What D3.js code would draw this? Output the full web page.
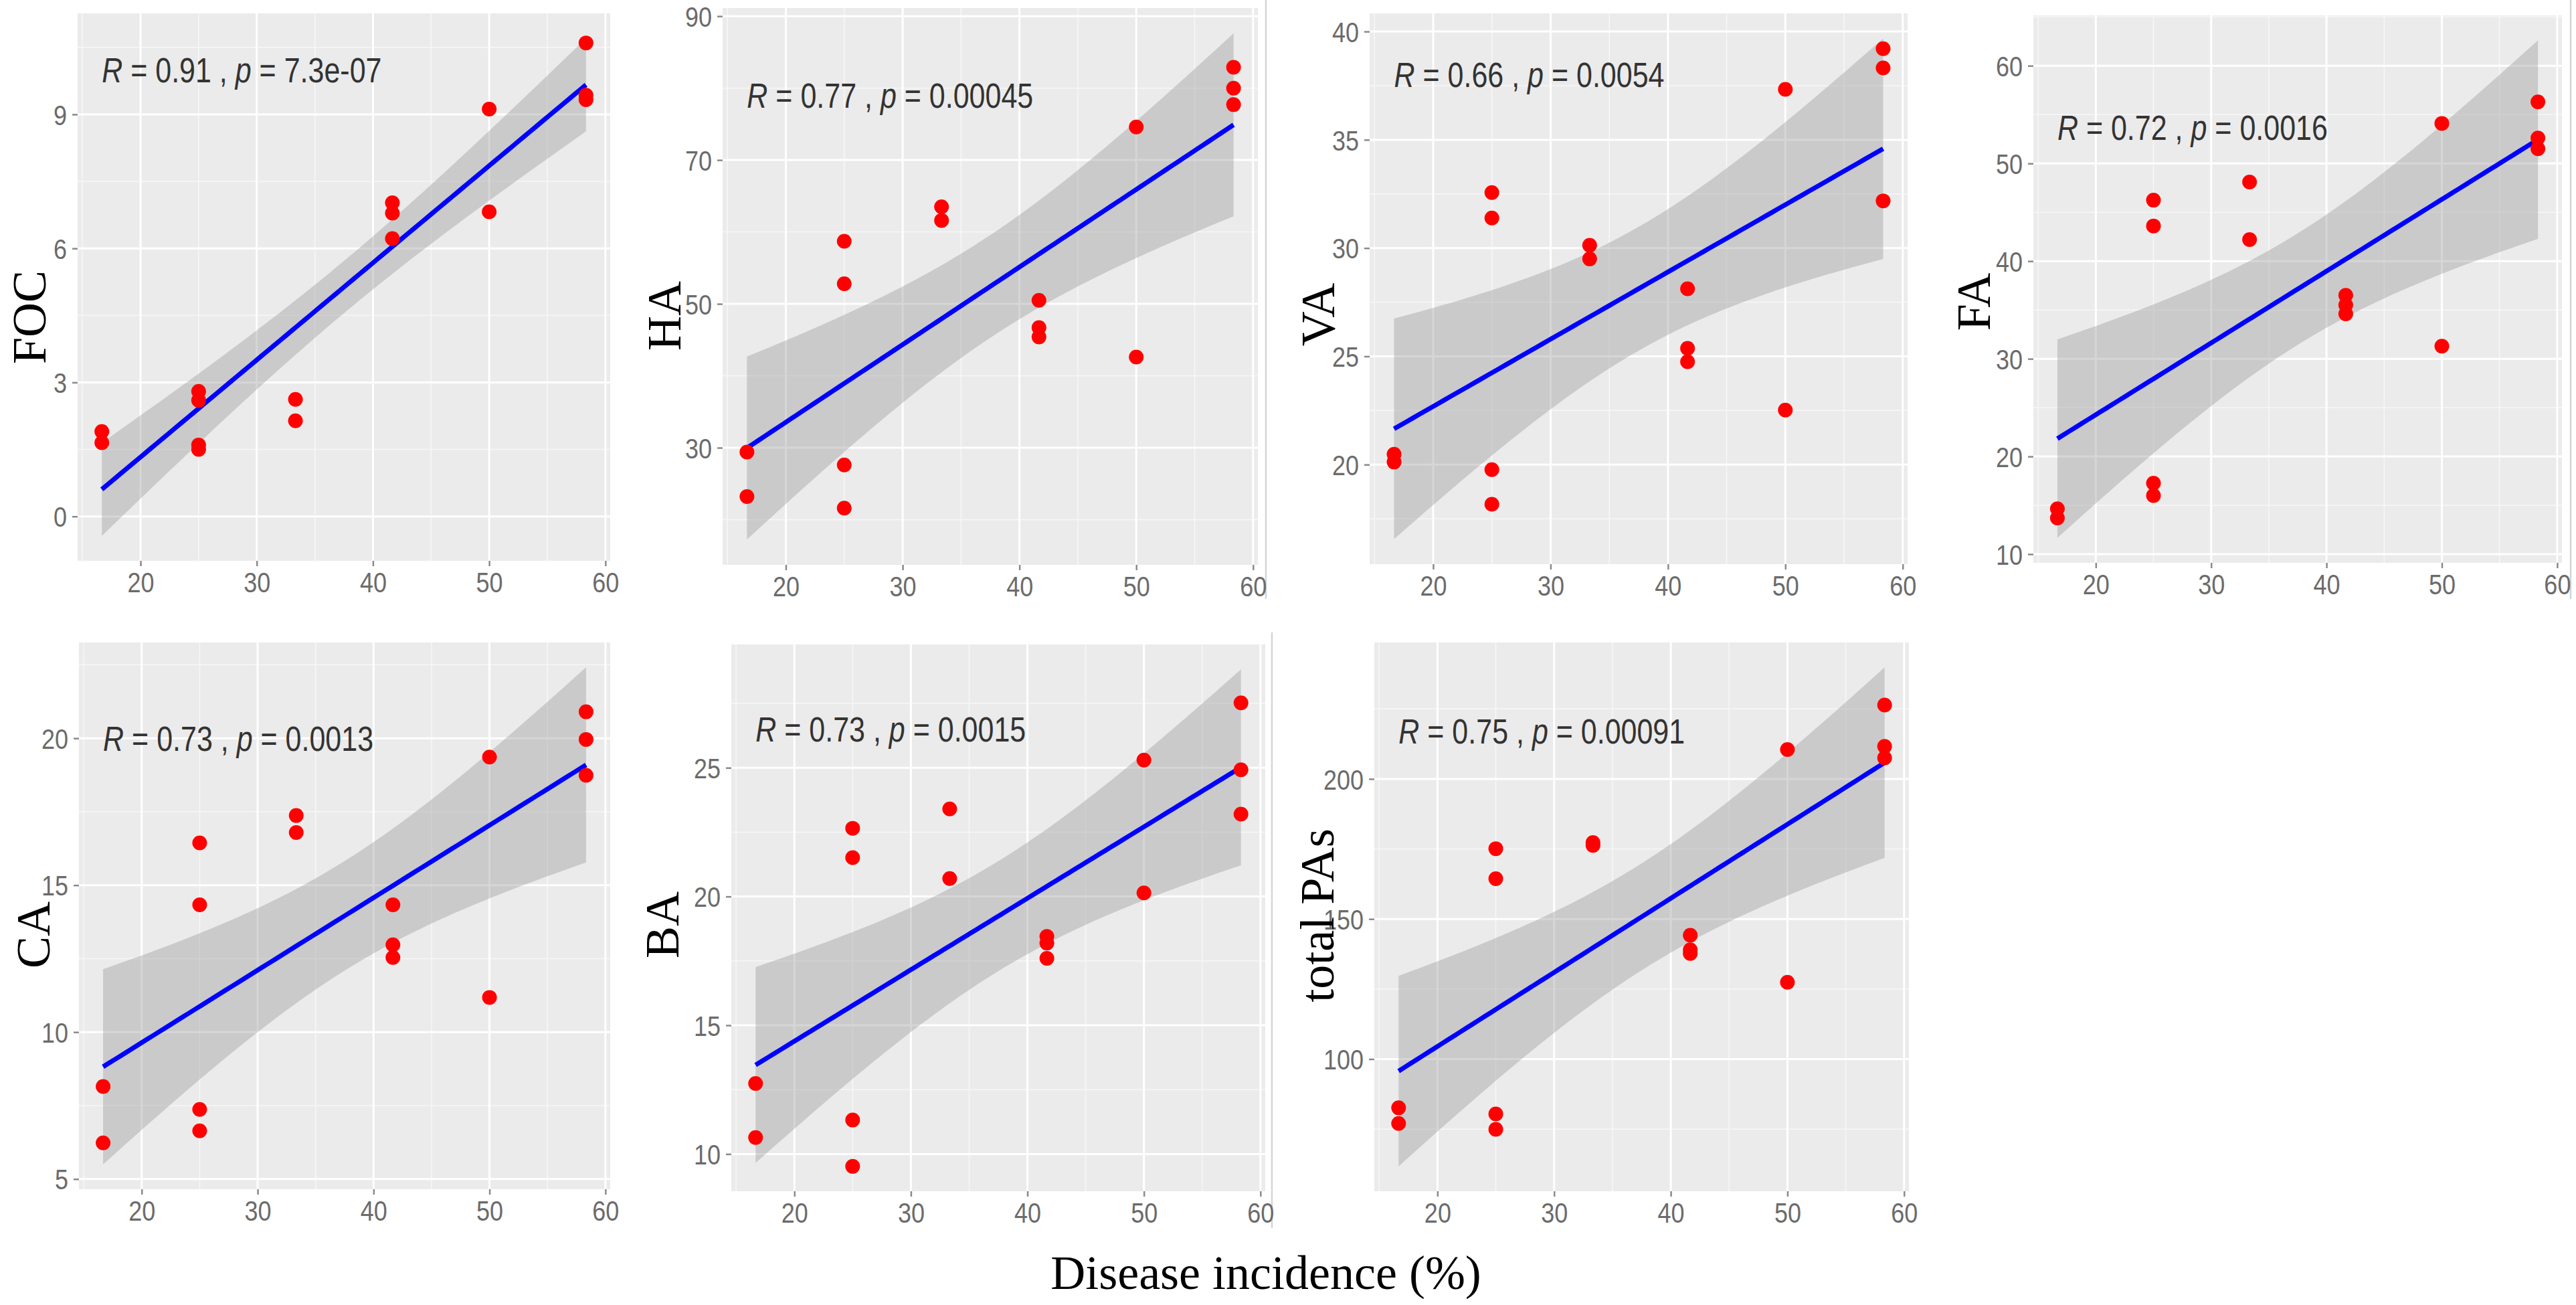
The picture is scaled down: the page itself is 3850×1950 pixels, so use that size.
<!DOCTYPE html>
<html>
<head>
<meta charset="utf-8">
<script src="https://d3js.org/d3.v7.min.js"></script>
<style>
body{margin:0;background:#fff;}
svg{display:block;}
</style>
</head>
<body>
<div class="chart"></div>
<script>
const W = 3850, H = 1950;

// disease incidence (%) of the 16 samples, same for every panel
const incidence = [16.67, 16.67, 25, 25, 25, 25, 33.33, 33.33, 41.67, 41.67, 41.67, 50, 50, 58.33, 58.33, 58.33];

const focValues = [1.9, 1.65, 2.8, 2.6, 1.6, 1.5, 2.62, 2.14, 7.02, 6.79, 6.22, 9.12, 6.82, 10.6, 9.43, 9.33];
const haValues  = [29.4, 23.2, 58.7, 52.8, 27.6, 21.6, 63.5, 61.6, 50.5, 46.7, 45.4, 74.6, 42.6, 82.9, 80.0, 77.7];
const vaValues  = [20.48, 20.12, 32.56, 31.39, 19.77, 18.17, 30.13, 29.5, 28.12, 25.37, 24.75, 37.33, 22.52, 39.21, 38.32, 32.18];
const faValues  = [14.65, 13.7, 46.24, 43.6, 17.27, 16.0, 48.1, 42.2, 36.5, 35.5, 34.6, 54.1, 31.3, 56.3, 52.6, 51.5];
const caValues  = [8.15, 6.23, 16.44, 14.33, 7.37, 6.64, 17.37, 16.79, 14.33, 12.97, 12.54, 19.36, 11.18, 20.9, 19.96, 18.74];
const baValues  = [12.74, 10.64, 22.65, 21.51, 11.32, 9.52, 23.4, 20.7, 18.45, 18.19, 17.6, 25.3, 20.14, 27.52, 24.92, 23.2];
const pasValues = [82.6, 77.0, 175.1, 164.4, 80.4, 74.9, 177.3, 176.3, 144.2, 139.0, 137.7, 210.5, 127.4, 226.4, 211.6, 207.5];

const variableNames = ['FOC', 'HA', 'VA', 'FA', 'CA', 'BA', 'total PAs'];
const seriesValues = [focValues, haValues, vaValues, faValues, caValues, baValues, pasValues];
const rLabels = ['0.91', '0.77', '0.66', '0.72', '0.73', '0.73', '0.75'];
const pLabels = ['7.3e-07', '0.00045', '0.0054', '0.0016', '0.0013', '0.0015', '0.00091'];

const xTickValues = [20, 30, 40, 50, 60];
const yTickValues = [
  [0, 3, 6, 9],
  [30, 50, 70, 90],
  [20, 25, 30, 35, 40],
  [10, 20, 30, 40, 50, 60],
  [5, 10, 15, 20],
  [10, 15, 20, 25],
  [100, 150, 200]
];
const xTitle = 'Disease incidence (%)';

// layout of the 7 panels (pixel boxes of the grey plot area, title spots)
const layout = [
  {x0: 116,  x1: 912,  y0: 20,  y1: 838,  tx: 44,   ty: 474,  labelY: 10},
  {x0: 1080, x1: 1880, y0: 12,  y1: 844,  tx: 993,  ty: 472,  labelY: 79},
  {x0: 2047, x1: 2851, y0: 20,  y1: 843,  tx: 1970, ty: 470,  labelY: 38},
  {x0: 3039, x1: 3829, y0: 23,  y1: 841,  tx: 2950, ty: 451,  labelY: 53.7},
  {x0: 118,  x1: 912,  y0: 960, y1: 1777, tx: 50,   ty: 1397, labelY: 20},
  {x0: 1093, x1: 1891, y0: 963, y1: 1780, tx: 990,  ty: 1382, labelY: 26.5},
  {x0: 2054, x1: 2853, y0: 960, y1: 1780, tx: 1969, ty: 1368, labelY: 217}
];

const tCrit = 2.1448; // qt(0.975, df = 14), n = 16

const linearFit = (xs, ys) => {
  const n = xs.length;
  const mx = d3.mean(xs), my = d3.mean(ys);
  const sxx = d3.sum(xs, x => (x - mx) ** 2);
  const sxy = d3.sum(xs, (x, i) => (x - mx) * (ys[i] - my));
  const slope = sxy / sxx;
  const icpt = my - slope * mx;
  const sse = d3.sum(xs, (x, i) => (ys[i] - icpt - slope * x) ** 2);
  const s = Math.sqrt(sse / (n - 2));
  const [lo, hi] = d3.extent(xs);
  return d3.range(80).map(i => {
    const x = lo + i * (hi - lo) / 79;
    const fit = icpt + slope * x;
    const se = s * Math.sqrt(1 / n + (x - mx) ** 2 / sxx);
    return {x, fit, lo: fit - tCrit * se, hi: fit + tCrit * se};
  });
};

const expand = ([a, b]) => {
  const pad = (b - a) * 0.05;
  return [a - pad, b + pad];
};

const minorBreaks = (ticks, domain) => {
  const step = ticks[1] - ticks[0];
  const out = [];
  for (let v = ticks[0] - step / 2; v <= domain[1]; v += step) {
    if (v >= domain[0]) out.push(v);
  }
  return out;
};

const svg = d3.select('.chart')
  .append('svg')
  .attr('width', W)
  .attr('height', H);

svg.append('rect').attr('width', W).attr('height', H).attr('fill', '#fff');

// thin frame lines left over from the original figure
[[1892, 0, 1892, 895], [3842, 0, 3842, 895], [1901, 945, 1901, 1835]].forEach(([a, b, c, d]) => {
  svg.append('line')
    .attr('x1', a).attr('y1', b).attr('x2', c).attr('y2', d)
    .attr('stroke', '#d4d4d4').attr('stroke-width', 2.5);
});

variableNames.forEach((name, k) => {
  const box = layout[k];
  const ys = seriesValues[k];
  const band = linearFit(incidence, ys);

  const xScale = d3.scaleLinear()
    .domain(expand(d3.extent(incidence)))
    .range([box.x0, box.x1]);

  const yExtent = d3.extent([...ys, ...band.map(d => d.lo), ...band.map(d => d.hi)]);
  const yScale = d3.scaleLinear()
    .domain(expand(yExtent))
    .range([box.y1, box.y0]);

  const g = svg.append('g').attr('class', 'panel');

  g.append('rect')
    .attr('x', box.x0).attr('y', box.y0)
    .attr('width', box.x1 - box.x0).attr('height', box.y1 - box.y0)
    .attr('fill', '#EBEBEB');

  // minor grid
  g.selectAll('.xminor')
    .data(minorBreaks(xTickValues, xScale.domain()))
    .enter().append('line')
    .attr('x1', d => xScale(d)).attr('x2', d => xScale(d))
    .attr('y1', box.y0).attr('y2', box.y1)
    .attr('stroke', '#F7F7F7').attr('stroke-width', 1.5);
  g.selectAll('.yminor')
    .data(minorBreaks(yTickValues[k], yScale.domain()))
    .enter().append('line')
    .attr('y1', d => yScale(d)).attr('y2', d => yScale(d))
    .attr('x1', box.x0).attr('x2', box.x1)
    .attr('stroke', '#F7F7F7').attr('stroke-width', 1.5);

  // major grid
  g.selectAll('.xmajor')
    .data(xTickValues)
    .enter().append('line')
    .attr('x1', d => xScale(d)).attr('x2', d => xScale(d))
    .attr('y1', box.y0).attr('y2', box.y1)
    .attr('stroke', '#fff').attr('stroke-width', 3);
  g.selectAll('.ymajor')
    .data(yTickValues[k])
    .enter().append('line')
    .attr('y1', d => yScale(d)).attr('y2', d => yScale(d))
    .attr('x1', box.x0).attr('x2', box.x1)
    .attr('stroke', '#fff').attr('stroke-width', 3);

  // confidence band + fit
  g.append('path')
    .attr('d', d3.area().x(d => xScale(d.x)).y0(d => yScale(d.lo)).y1(d => yScale(d.hi))(band))
    .attr('fill', '#999999').attr('fill-opacity', 0.4);

  g.append('path')
    .attr('d', d3.line().x(d => xScale(d.x)).y(d => yScale(d.fit))(band))
    .attr('fill', 'none').attr('stroke', '#0000FF').attr('stroke-width', 7);

  g.selectAll('circle')
    .data(ys)
    .enter().append('circle')
    .attr('cx', (d, i) => xScale(incidence[i]))
    .attr('cy', d => yScale(d))
    .attr('r', 11)
    .attr('fill', '#FF0000');

  // axes
  const xAxis = g.append('g')
    .attr('transform', `translate(0,${box.y1})`)
    .call(d3.axisBottom(xScale).tickValues(xTickValues).tickSize(8).tickFormat(d3.format('d')));
  const yAxis = g.append('g')
    .attr('transform', `translate(${box.x0},0)`)
    .call(d3.axisLeft(yScale).tickValues(yTickValues[k]).tickSize(8).tickFormat(d3.format('d')));

  [xAxis, yAxis].forEach(ax => {
    ax.select('.domain').remove();
    ax.selectAll('line').attr('stroke', '#8a8a8a').attr('stroke-width', 2.5);
    ax.selectAll('text')
      .attr('fill', '#6b6b6b')
      .attr('font-family', 'Liberation Sans, Arial, sans-serif')
      .attr('font-size', 36)
      .attr('dy', null)
      .attr('dominant-baseline', 'central');
  });
  xAxis.selectAll('text').attr('y', 0).attr('transform', 'translate(0,32) scale(1,1.2)');
  yAxis.selectAll('text').attr('x', 0).attr('transform', 'translate(-16,0) scale(1,1.2)');

  // correlation label
  const label = g.append('text')
    .attr('transform', `translate(${xScale(d3.min(incidence))},${yScale(box.labelY)}) scale(1,1.2)`)
    .attr('dominant-baseline', 'central')
    .attr('font-family', 'Liberation Sans, Arial, sans-serif')
    .attr('font-size', 43)
    .attr('fill', '#333')
    .style('white-space', 'pre');
  label.append('tspan').attr('font-style', 'italic').text('R');
  label.append('tspan').text(` = ${rLabels[k]} , `);
  label.append('tspan').attr('font-style', 'italic').text('p');
  label.append('tspan').text(` = ${pLabels[k]}`);

  // y title
  svg.append('text')
    .attr('transform', `translate(${box.tx},${box.ty}) rotate(-90)`)
    .attr('text-anchor', 'middle')
    .attr('dominant-baseline', 'central')
    .attr('font-family', 'Liberation Serif, Times New Roman, serif')
    .attr('font-size', 72)
    .attr('fill', '#000')
    .text(name);
});

svg.append('text')
  .attr('x', 1892).attr('y', 1902)
  .attr('text-anchor', 'middle')
  .attr('dominant-baseline', 'central')
  .attr('font-family', 'Liberation Serif, Times New Roman, serif')
  .attr('font-size', 72)
  .attr('fill', '#000')
  .text(xTitle);
</script>
</body>
</html>
